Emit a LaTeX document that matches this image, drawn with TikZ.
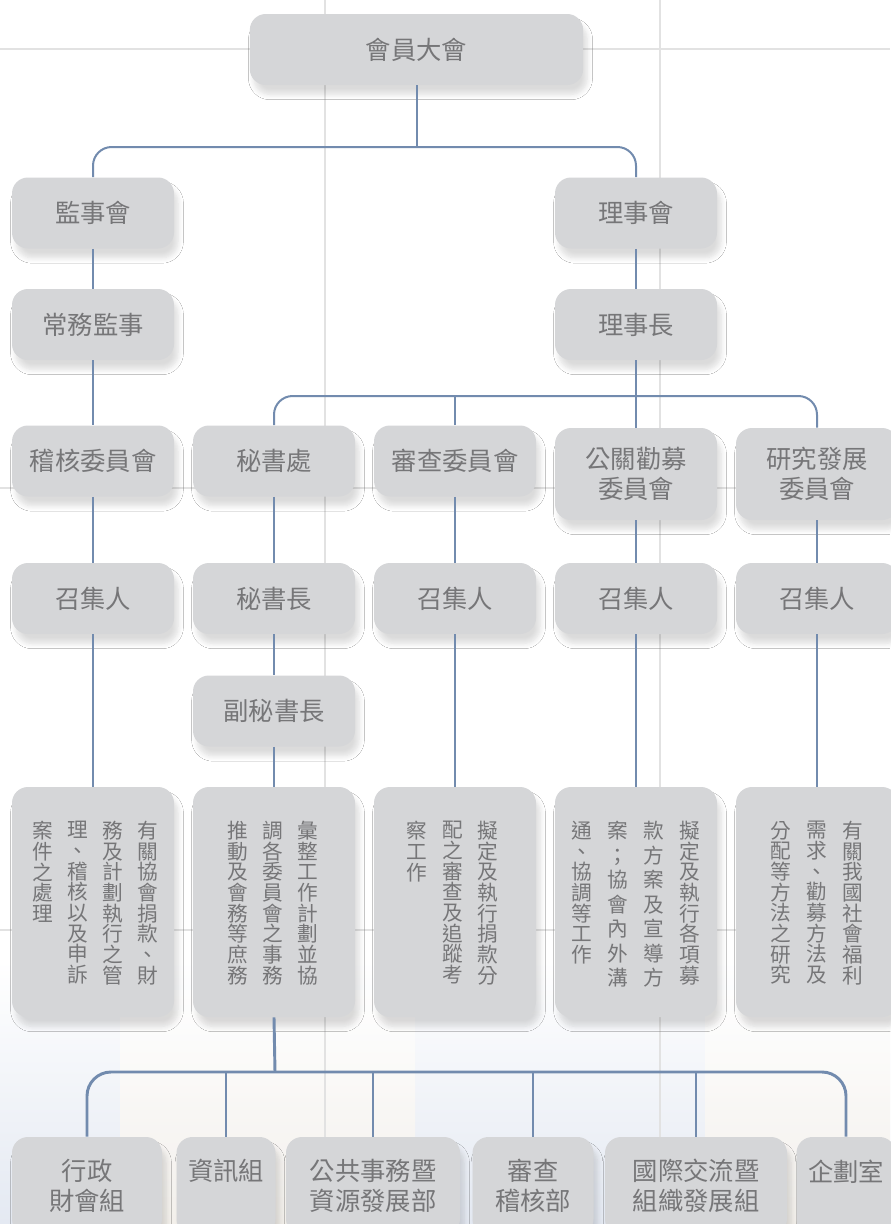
\documentclass[tikz,border=0pt]{standalone}
\usepackage{fontspec}
\newfontfamily\tcfont{Noto Sans CJK TC}
\usetikzlibrary{shadows.blur}

\definecolor{boxgrey}{RGB}{213,214,216}
\definecolor{txtgrey}{RGB}{118,118,120}
\definecolor{linkblue}{RGB}{114,139,174}
\definecolor{gridgrey}{RGB}{226,226,226}
\definecolor{bgblue}{RGB}{228,233,242}
\definecolor{bgbeige}{RGB}{247,242,234}

\newcommand{\colfont}{\tcfont\fontsize{15.5}{15.5}\selectfont\lineskiplimit=-5pt\relax}
\newcommand{\colfontwide}{\tcfont\fontsize{15.5}{18.4}\selectfont\lineskiplimit=-5pt\relax}

\tikzset{
  orgbox/.style={fill=boxgrey, rounded corners=12pt, minimum width=121.5pt, minimum height=53.25pt,
    inner sep=0pt, align=center, text=txtgrey, font=\tcfont\fontsize{19}{22.5}\selectfont,
    blur shadow={shadow xshift=3pt, shadow yshift=-7pt, shadow blur steps=6,
      shadow blur radius=4pt, shadow opacity=14}},
  tallbox/.style={orgbox, minimum height=69pt},
  textbox/.style={orgbox, minimum height=172.5pt},
  unitbox/.style={orgbox, minimum height=73.5pt},
  vcol/.style={anchor=north, inner sep=0pt, align=center, text=txtgrey, font=\colfont},
  vcolwide/.style={vcol, font=\colfontwide},
  link/.style={draw=linkblue, line width=1.5pt},
  linkb/.style={draw=linkblue, line width=2.2pt},
}

\begin{document}
\begin{tikzpicture}[x=0.75pt,y=0.75pt,yscale=-1,xscale=1]
\useasboundingbox (0,0) rectangle (890,1224);

%Background
\fill[white] (0,0) rectangle (890,1224);
\shade[top color=white, bottom color=bgblue] (0,960) rectangle (890,1224);
\shade[top color=white, bottom color=bgbeige, opacity=0.8] (120,990) rectangle (415,1224);
\shade[top color=white, bottom color=bgbeige, opacity=0.8] (705,990) rectangle (890,1224);
%Grid lines
\draw[gridgrey, line width=1.2pt] (325,0) -- (325,1224);
\draw[gridgrey, line width=1.2pt] (660,0) -- (660,1224);
\draw[gridgrey, line width=1.2pt] (0,49) -- (890,49);
\draw[gridgrey, line width=1.2pt] (0,488) -- (890,488);
\draw[gridgrey, line width=1.2pt] (0,930) -- (890,930);

%Shape: Rounded Rect -- top
\node[orgbox, minimum width=250pt] (gm) at (416.5,49.5) {會員大會};
\node[orgbox] (sup) at (93,213) {監事會};
\node[orgbox] (brd) at (636,213) {理事會};
\node[orgbox] (ssup) at (93,324.5) {常務監事};
\node[orgbox] (chair) at (636,324.5) {理事長};

%Shape: Rounded Rect -- committees
\node[orgbox] (audit) at (93,461) {稽核委員會};
\node[orgbox] (sec) at (274,461) {秘書處};
\node[orgbox] (rev) at (455,461) {審查委員會};
\node[tallbox] (pr) at (636,474) {公關勸募\\委員會};
\node[tallbox] (rd) at (817,474) {研究發展\\委員會};

%Shape: Rounded Rect -- conveners
\node[orgbox] (conv1) at (93,598.5) {召集人};
\node[orgbox] (sg) at (274,598.5) {秘書長};
\node[orgbox] (conv3) at (455,598.5) {召集人};
\node[orgbox] (conv4) at (636,598.5) {召集人};
\node[orgbox] (conv5) at (817,598.5) {召集人};
\node[orgbox] (dsg) at (274,711) {副秘書長};

%Shape: Rounded Rect -- duties
\node[textbox] (txt1) at (93,902) {};
\node[textbox] (txt2) at (274,902) {};
\node[textbox] (txt3) at (455,902) {};
\node[textbox] (txt4) at (636,902) {};
\node[textbox] (txt5) at (817,902) {};

% Text Node
\node[vcol] (txt1a) at (147.5,821) {有\\關\\協\\會\\捐\\款\\、\\財};
\node[vcol] (txt1b) at (112.5,821) {務\\及\\計\\劃\\執\\行\\之\\管};
\node[vcol] (txt1c) at (77.5,821) {理\\、\\稽\\核\\以\\及\\申\\訴};
\node[vcol] (txt1d) at (42.5,821) {案\\件\\之\\處\\理};
% Text Node
\node[vcol] (txt2a) at (307.5,821) {彙\\整\\工\\作\\計\\劃\\並\\協};
\node[vcol] (txt2b) at (272.5,821) {調\\各\\委\\員\\會\\之\\事\\務};
\node[vcol] (txt2c) at (237.5,821) {推\\動\\及\\會\\務\\等\\庶\\務};
% Text Node
\node[vcol] (txt3a) at (488,821) {擬\\定\\及\\執\\行\\捐\\款\\分};
\node[vcol] (txt3b) at (453,821) {配\\之\\審\\查\\及\\追\\蹤\\考};
\node[vcol] (txt3c) at (417,821) {察\\工\\作};
% Text Node
\node[vcol] (txt4a) at (690,821) {擬\\定\\及\\執\\行\\各\\項\\募};
\node[vcolwide] (txt4b) at (654,821) {款\\方\\案\\及\\宣\\導\\方};
\node[vcolwide] (txt4c) at (618,821) {案\\；\\協\\會\\內\\外\\溝};
\node[vcol] (txt4d) at (582,821) {通\\、\\協\\調\\等\\工\\作};
% Text Node
\node[vcol] (txt5a) at (853,821) {有\\關\\我\\國\\社\\會\\福\\利};
\node[vcol] (txt5b) at (817,821) {需\\求\\、\\勸\\募\\方\\法\\及};
\node[vcol] (txt5c) at (781,821) {分\\配\\等\\方\\法\\之\\研\\究};

%Shape: Rounded Rect -- units
\node[unitbox, minimum width=112.5pt] (adm) at (87,1186) {行政\\財會組};
\node[unitbox, minimum width=74.25pt] (info) at (226,1186) {資訊組\\\phantom{組}};
\node[unitbox, minimum width=130.5pt] (pub) at (373,1186) {公共事務暨\\資源發展部};
\node[unitbox, minimum width=90.75pt] (aud) at (533,1186) {審查\\稽核部};
\node[unitbox, minimum width=136.5pt] (intl) at (696,1186) {國際交流暨\\組織發展組};
\node[unitbox, minimum width=74.25pt] (plan) at (846,1186) {企劃室\\\phantom{室}};

%Straight Lines
\coordinate (j1) at (416.5,147);
\coordinate (j2) at (636,396);
\coordinate (j3) at (275,1072);
\draw[link] (gm.south) -- (j1);
\draw[link, rounded corners=14pt] (sup.north) |- (j1) -| (brd.north);
\draw[link] (sup.south) -- (ssup.north);
\draw[link] (ssup.south) -- (audit.north);
\draw[link] (audit.south) -- (conv1.north);
\draw[link] (conv1.south) -- (txt1.north);
\draw[link] (brd.south) -- (chair.north);
\draw[link] (chair.south) -- (pr.north);
\draw[link, rounded corners=14pt] (sec.north) |- (j2) -| (rd.north);
\draw[link] (rev.north) -- (rev.north |- j2);
\draw[link] (sec.south) -- (sg.north);
\draw[link] (sg.south) -- (dsg.north);
\draw[link] (dsg.south) -- (txt2.north);
\draw[link] (rev.south) -- (conv3.north);
\draw[link] (conv3.south) -- (txt3.north);
\draw[link] (pr.south) -- (conv4.north);
\draw[link] (conv4.south) -- (txt4.north);
\draw[link] (rd.south) -- (conv5.north);
\draw[link] (conv5.south) -- (txt5.north);
\draw[linkb] (txt2.south) -- (j3);
\draw[linkb, rounded corners=18pt] (adm.north) |- (j3) -| (plan.north);
\draw[linkb] (info.north) -- (info.north |- j3);
\draw[linkb] (pub.north) -- (pub.north |- j3);
\draw[linkb] (aud.north) -- (aud.north |- j3);
\draw[linkb] (intl.north) -- (intl.north |- j3);

\end{tikzpicture}
\end{document}
